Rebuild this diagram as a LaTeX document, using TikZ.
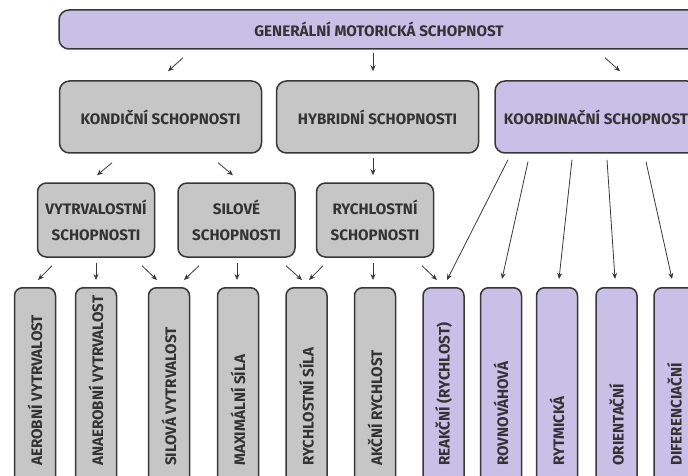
\documentclass[tikz,border=0pt]{standalone}
\usepackage{fontspec}
\setmainfont{Fira Sans}
\usetikzlibrary{arrows.meta}

\definecolor{fialova}{HTML}{C8C0E6}
\definecolor{seda}{HTML}{C6C6C6}
\definecolor{okraj}{HTML}{383838}
\definecolor{pismo}{HTML}{333333}

\newcommand{\svisle}[1]{\rotatebox{90}{\makebox[0pt][l]{#1}}}

\begin{document}
\begin{tikzpicture}[x=1pt, y=-1pt,
    box/.style={draw=okraj, line width=1.5pt, rounded corners=10pt, text=pismo,
        font=\bfseries\fontsize{15.2}{17}\selectfont, inner sep=0pt},
    velky/.style={box, minimum width=202pt, minimum height=72pt},
    stredni/.style={box, minimum width=117pt, minimum height=74pt, rounded corners=9pt,
        align=center, font=\bfseries\fontsize{15.2}{26}\selectfont},
    list/.style={box, minimum width=41pt, minimum height=356pt, anchor=north, rounded corners=8pt},
    sipka/.style={-{Stealth[length=6pt,width=5pt]}, draw=okraj, line width=0.8pt}]
    \path[use as bounding box] (0,0) rectangle (688,476);
    \clip (0,0) rectangle (688,476);

    % Hlavní schopnost
    \node[box, fill=fialova, minimum width=640pt, minimum height=39pt] (gen) at (379,29.5) {GENERÁLNÍ MOTORICKÁ SCHOPNOST};

    % Druhá úroveň
    \node[velky, fill=seda] (kond) at (160.5,117) {KONDIČNÍ SCHOPNOSTI};
    \node[velky, fill=seda] (hyb) at (377.5,117) {HYBRIDNÍ SCHOPNOSTI};
    \node[velky, fill=fialova] (koord) at (596,117) {KOORDINAČNÍ SCHOPNOST};

    % Třetí úroveň
    \node[stredni, fill=seda] (vytr) at (96,220) {VYTRVALOSTNÍ\\SCHOPNOSTI};
    \node[stredni, fill=seda] (sil) at (236.5,220) {SILOVÉ\\SCHOPNOSTI};
    \node[stredni, fill=seda] (rych) at (375,220) {RYCHLOSTNÍ\\SCHOPNOSTI};

    % Jednotlivé schopnosti
    \node[list, fill=seda] (aer) at (35,287) {\svisle{AEROBNÍ VYTRVALOST}};
    \node[list, fill=seda] (anaer) at (96,287) {\svisle{ANAEROBNÍ VYTRVALOST}};
    \node[list, fill=seda] (silv) at (169,287) {\svisle{SILOVÁ VYTRVALOST}};
    \node[list, fill=seda] (maxs) at (238,287) {\svisle{MAXIMÁLNÍ SÍLA}};
    \node[list, fill=seda] (rsila) at (306.5,287) {\svisle{RYCHLOSTNÍ SÍLA}};
    \node[list, fill=seda] (akc) at (375,287) {\svisle{AKČNÍ RYCHLOST}};
    \node[list, fill=fialova] (reak) at (443.5,287) {\svisle{REAKČNÍ (RYCHLOST)}};
    \node[list, fill=fialova] (rovn) at (501,287) {\svisle{ROVNOVÁHOVÁ}};
    \node[list, fill=fialova] (rytm) at (557,287) {\svisle{RYTMICKÁ}};
    \node[list, fill=fialova] (orient) at (616.5,287) {\svisle{ORIENTAČNÍ}};
    \node[list, fill=fialova] (dif) at (674.5,287) {\svisle{DIFERENCIAČNÍ}};

    % Šipky z hlavní schopnosti
    \draw[sipka] ([shift={(-196,8)}]gen.south) -- ([shift={(7.5,-9)}]kond.north);
    \draw[sipka] ([shift={(-6,3)}]gen.south) -- ([shift={(-4.5,-9)}]hyb.north);
    \draw[sipka] ([shift={(226,8)}]gen.south) -- ([shift={(24,-9)}]koord.north);

    % Šipky z druhé úrovně
    \draw[sipka] ([shift={(-48.5,9)}]kond.south) -- ([shift={(1,-7)}]vytr.north);
    \draw[sipka] ([shift={(57.5,9)}]kond.south) -- ([shift={(-3.5,-7)}]sil.north);
    \draw[sipka] ([shift={(-4.5,4)}]hyb.south) -- ([shift={(-2,-7)}]rych.north);
    \draw[sipka] ([shift={(-88,6)}]koord.south) -- ([shift={(3.5,-7)}]reak.north);
    \draw[sipka] ([shift={(-68,8)}]koord.south) -- ([shift={(1,-8)}]rovn.north);
    \draw[sipka] ([shift={(-24,6)}]koord.south) -- ([shift={(2,-8)}]rytm.north);
    \draw[sipka] ([shift={(11,6)}]koord.south) -- ([shift={(-1.5,-8)}]orient.north);
    \draw[sipka] ([shift={(50,8)}]koord.south) -- ([shift={(-2.5,-8)}]dif.north);

    % Šipky ze třetí úrovně
    \draw[sipka] ([shift={(-44,8)}]vytr.south) -- ([shift={(3,-7)}]aer.north);
    \draw[sipka] ([shift={(0,5)}]vytr.south) -- ([shift={(0,-7)}]anaer.north);
    \draw[sipka] ([shift={(46,8)}]vytr.south) -- ([shift={(-12,-7)}]silv.north);
    \draw[sipka] ([shift={(-37.5,8)}]sil.south) -- ([shift={(15,-7)}]silv.north);
    \draw[sipka] ([shift={(0.5,5)}]sil.south) -- ([shift={(-1,-7)}]maxs.north);
    \draw[sipka] ([shift={(49.5,8)}]sil.south) -- ([shift={(-4.5,-7)}]rsila.north);
    \draw[sipka] ([shift={(-52,8)}]rych.south) -- ([shift={(2.5,-7)}]rsila.north);
    \draw[sipka] ([shift={(-2,5)}]rych.south) -- ([shift={(-2,-7)}]akc.north);
    \draw[sipka] ([shift={(47,8)}]rych.south) -- ([shift={(-6.5,-7)}]reak.north);
\end{tikzpicture}
\end{document}
